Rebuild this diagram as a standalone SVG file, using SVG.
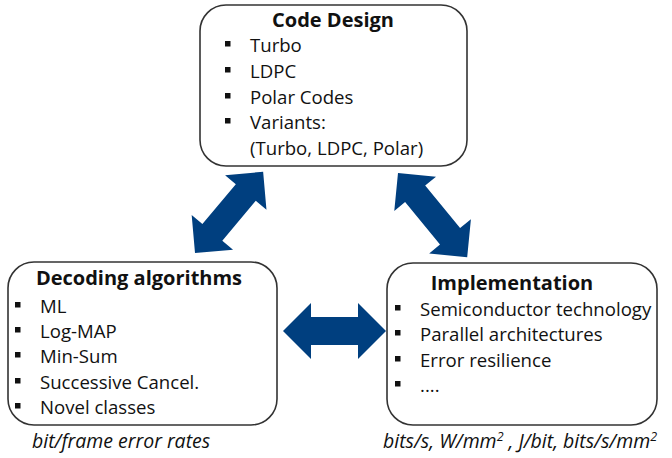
<svg xmlns="http://www.w3.org/2000/svg" width="672" height="458" viewBox="0 0 672 458">
<style>
.box{fill:#fff;stroke:#333;stroke-width:1.6}
.t{font-family:"Open Sans","Liberation Sans",sans-serif;font-size:18.6px;fill:#111}
.h{font-family:"Open Sans","Liberation Sans",sans-serif;font-size:20px;font-weight:bold;fill:#111}
.i{font-family:"Open Sans","Liberation Sans",sans-serif;font-size:19.5px;font-style:italic;fill:#111}
.b{fill:#111}
.arr{fill:#003f7f}
</style>
<defs>
<rect id="bul" width="5.5" height="5.5" class="b"/>
</defs>
<g id="connectors">
<polygon class="arr" transform="translate(195,253) rotate(-50)" points="0,0 27,-27 27,-13 79,-13 79,-27 106,0 79,27 79,13 27,13 27,27"/>
<polygon class="arr" transform="translate(398,173) rotate(50.6)" points="0,0 27,-27 27,-13 82,-13 82,-27 109,0 82,27 82,13 27,13 27,27"/>
<polygon class="arr" transform="translate(283,331)" points="0,0 28,-28 28,-14 75,-14 75,-28 103,0 75,28 75,14 28,14 28,28"/>
</g>
<g id="code-design">
<rect class="box" x="200" y="5" width="267" height="161" rx="26"/>
<text class="h" x="333" y="27" text-anchor="middle">Code Design</text>
<use href="#bul" x="225" y="41"/><text class="t" x="250" y="52">Turbo</text>
<use href="#bul" x="225" y="67"/><text class="t" x="250" y="78">LDPC</text>
<use href="#bul" x="225" y="93"/><text class="t" x="250" y="104">Polar Codes</text>
<use href="#bul" x="225" y="118"/><text class="t" x="250" y="129">Variants:</text>
<text class="t" x="250" y="155">(Turbo, LDPC, Polar)</text>
</g>
<g id="decoding">
<rect class="box" x="8" y="262" width="269" height="163" rx="26"/>
<text class="h" x="139" y="285" text-anchor="middle">Decoding algorithms</text>
<use href="#bul" x="15" y="302"/><text class="t" x="40" y="313">ML</text>
<use href="#bul" x="15" y="327"/><text class="t" x="40" y="338">Log-MAP</text>
<use href="#bul" x="15" y="352"/><text class="t" x="40" y="363">Min-Sum</text>
<use href="#bul" x="15" y="378"/><text class="t" x="40" y="389">Successive Cancel.</text>
<use href="#bul" x="15" y="403"/><text class="t" x="40" y="414">Novel classes</text>
<text class="i" x="32" y="448">bit/frame error rates</text>
</g>
<g id="implementation">
<rect class="box" x="387" y="263" width="270" height="162" rx="26"/>
<text class="h" x="512" y="290" text-anchor="middle">Implementation</text>
<use href="#bul" x="395" y="305"/><text class="t" x="420" y="316">Semiconductor technology</text>
<use href="#bul" x="395" y="330"/><text class="t" x="420" y="341">Parallel architectures</text>
<use href="#bul" x="395" y="356"/><text class="t" x="420" y="367">Error resilience</text>
<use href="#bul" x="395" y="381"/><text class="t" x="420" y="392">....</text>
<text class="i" x="383" y="448">bits/s, W/mm<tspan font-size="12.5" dy="-7">2</tspan><tspan dy="7"> , J/bit, bits/s/mm</tspan><tspan font-size="12.5" dy="-7">2</tspan></text>
</g>
</svg>
